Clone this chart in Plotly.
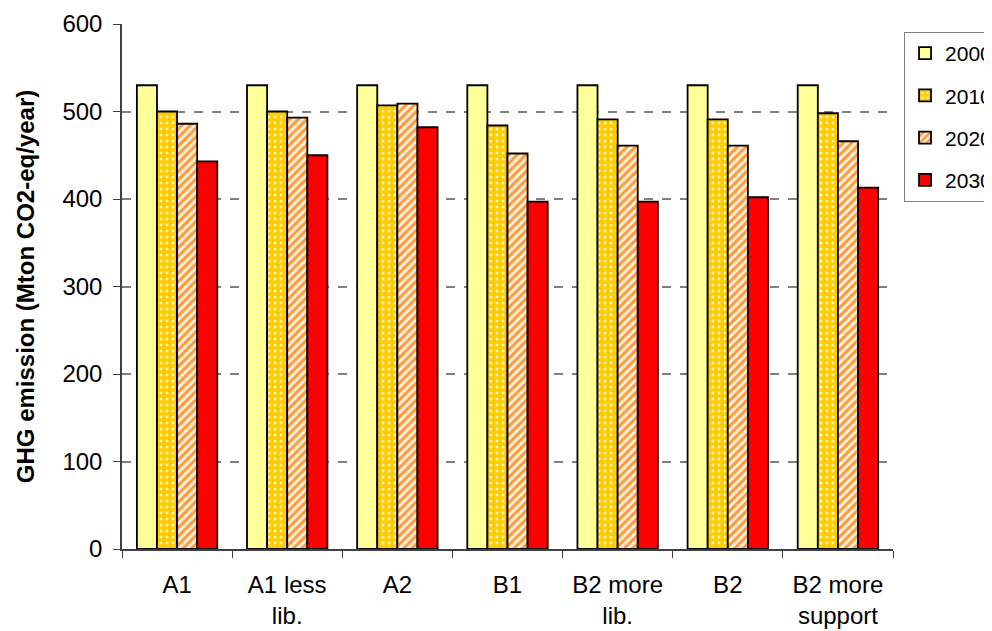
import plotly.graph_objects as go

categories = ["A1", "A1 less<br>lib.", "A2", "B1", "B2 more<br>lib.", "B2", "B2 more<br>support"]
series_names = ["2000", "2010", "2020", "2030"]
v2000 = [530, 530, 530, 530, 530, 530, 530]
v2010 = [500, 500, 507, 484, 491, 491, 498]
v2020 = [486, 493, 509, 452, 461, 461, 466]
v2030 = [443, 450, 482, 397, 397, 402, 413]
y_ticks = [0, 100, 200, 300, 400, 500, 600]
grid_ticks = [100, 200, 300, 400, 500]

styles = [
    dict(color="#FFFF99", pattern=dict(shape="")),
    dict(color="#FFCC00", pattern=dict(shape=".", fgcolor="#FFF4C0", bgcolor="#FFCC00", size=6, solidity=0.2, fillmode="replace")),
    dict(color="#FFFFFF", pattern=dict(shape="/", fgcolor="#FF9933", bgcolor="#FFF0E0", size=6, solidity=0.5, fillmode="replace")),
    dict(color="#FF0000", pattern=dict(shape="")),
]

fig = go.Figure()
for name, vals, st in zip(series_names, [v2000, v2010, v2020, v2030], styles):
    fig.add_trace(go.Bar(
        x=categories, y=vals, name=name, legendgroup=name,
        marker=dict(color=st["color"], pattern=st["pattern"], line=dict(color="black", width=1.8)),
    ))

# invisible trace on overlay axis to carry the dashed gridlines
fig.add_trace(go.Scatter(x=categories, y=v2000, yaxis="y2", mode="markers",
                         marker=dict(opacity=0), showlegend=False, hoverinfo="skip"))

fig.update_layout(
    width=984, height=623,
    paper_bgcolor="white", plot_bgcolor="rgba(0,0,0,0)",
    margin=dict(l=114, r=99, t=16, b=82, autoexpand=False),
    barmode="group", bargap=0.27, bargroupgap=0,
    font=dict(family="Liberation Sans, Arial", size=24, color="black"),
    xaxis=dict(type="category", showline=True, linecolor="#404040", linewidth=1.5,
               ticks="outside", tickson="boundaries", ticklen=7, tickcolor="#404040",
               tickfont=dict(size=24), showgrid=False, ticklabelstandoff=13),
    yaxis=dict(range=[0, 600], tickvals=y_ticks, showline=True, linecolor="#404040", linewidth=1.5,
               ticks="outside", ticklen=7, tickcolor="#404040", showgrid=False, zeroline=False,
               tickfont=dict(size=24), ticklabelstandoff=6,
               title=dict(text="<b>GHG emission (Mton CO2-eq/year)</b>", font=dict(size=24), standoff=21)),
    yaxis2=dict(range=[0, 600], overlaying="y", side="left", tickvals=grid_ticks,
                showticklabels=False, ticks="", showgrid=True, gridcolor="#808080", griddash="dash",
                gridwidth=1.5, zeroline=False, showline=False, layer="below traces"),
    legend=dict(x=1.0143, xanchor="left", y=0.985, yanchor="top",
                bordercolor="#808080", borderwidth=1, bgcolor="white",
                font=dict(size=21), traceorder="grouped", tracegroupgap=12,
                itemwidth=30),
)

fig.write_html("out.html")
